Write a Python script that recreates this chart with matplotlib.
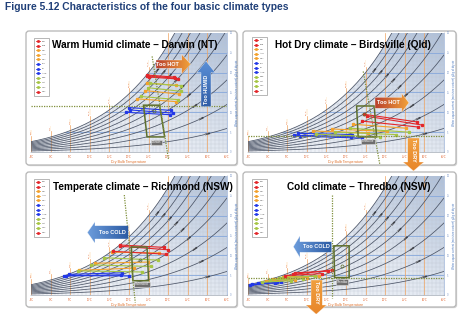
import numpy as np
import matplotlib
matplotlib.use('Agg')
import matplotlib.pyplot as plt
from matplotlib.patches import Polygon, FancyBboxPatch, Rectangle
from matplotlib.colors import LinearSegmentedColormap

plt.rcParams['font.family'] = ['Liberation Sans', 'DejaVu Sans']

W, H = 470, 332

# ---- data -------------------------------------------------------------
months = ['Jan', 'Feb', 'Mar', 'Apr', 'May', 'Jun',
          'Jul', 'Aug', 'Sep', 'Oct', 'Nov', 'Dec']
month_colors = ['#e3262a', '#e3262a', '#f3a12c', '#f3a12c', '#f3a12c', '#2238e8',
                '#2238e8', '#2238e8', '#a6c544', '#a6c544', '#a6c544', '#e3262a']

# Darwin (NT): min / max temperature (C), moisture at min / at max (g/kg)
darwin_tmin = [24.7, 24.6, 24.5, 24.0, 22.1, 20.0, 19.3, 20.3, 23.0, 24.9, 25.3, 25.0]
darwin_tmax = [31.8, 31.4, 31.9, 32.7, 32.0, 30.6, 30.5, 31.3, 32.5, 33.2, 33.2, 32.6]
darwin_w1 = [19.2, 19.4, 17.4, 15.5, 13.4, 11.2, 10.0, 10.6, 14.0, 16.2, 17.3, 18.9]
darwin_w2 = [18.6, 18.9, 16.8, 14.6, 12.7, 10.5, 9.4, 9.8, 13.2, 15.3, 16.7, 18.4]

# Birdsville (Qld)
birds_tmin = [25.4, 24.6, 21.7, 16.4, 11.5, 7.7, 6.7, 8.2, 12.4, 17.3, 21.0, 24.0]
birds_tmax = [39.4, 38.0, 35.3, 30.4, 25.6, 21.6, 21.3, 24.2, 28.7, 32.7, 36.0, 38.4]
birds_w1 = [9.0, 9.5, 7.0, 5.8, 5.3, 4.7, 4.2, 4.0, 4.5, 5.0, 6.0, 7.8]
birds_w2 = [6.8, 7.6, 6.0, 5.2, 4.8, 4.4, 3.9, 3.5, 3.8, 4.4, 5.0, 6.3]

# Richmond (NSW)
rich_tmin = [17.6, 17.8, 15.6, 11.3, 7.3, 4.7, 3.4, 4.0, 6.9, 10.3, 13.6, 15.9]
rich_tmax = [30.0, 29.0, 27.6, 24.8, 21.4, 18.3, 17.9, 20.0, 23.2, 25.6, 27.4, 29.4]
rich_w1 = [12.3, 12.6, 10.8, 8.0, 6.2, 5.2, 4.8, 4.9, 6.1, 7.6, 9.4, 11.0]
rich_w2 = [11.4, 12.0, 10.6, 8.3, 6.8, 5.6, 5.1, 4.8, 5.8, 7.2, 8.8, 10.3]

# Thredbo (NSW)
thred_tmin = [6.6, 7.0, 4.0, 1.5, -0.5, -2.5, -4.4, -4.0, -1.5, 0.5, 3.0, 4.5]
thred_tmax = [16.4, 15.5, 13.0, 10.0, 7.0, 3.5, 2.0, 2.5, 6.0, 9.0, 12.0, 14.0]
thred_w1 = [5.2, 5.6, 4.6, 4.1, 3.5, 3.0, 2.5, 2.7, 3.2, 3.8, 4.4, 4.9]
thred_w2 = [6.3, 6.0, 4.8, 4.4, 3.9, 3.3, 3.1, 3.2, 3.6, 4.1, 4.7, 5.4]

titles = ['Warm Humid climate \u2013 Darwin (NT)', 'Hot Dry climate \u2013 Birdsville (Qld)',
          'Temperate climate \u2013 Richmond (NSW)', 'Cold climate \u2013 Thredbo (NSW)']
places = ['Darwin', 'Birdsville', 'Richmond', 'Thredbo']

# comfort zones (T, w corners), neutral point, label spot
comfort_boxes = [
    [(23.7, 11.8), (27.8, 11.8), (29.1, 3.8), (24.6, 3.8)],
    [(22.7, 11.6), (27.2, 11.6), (27.8, 3.8), (23.1, 3.8)],
    [(20.6, 12.1), (24.6, 12.1), (25.0, 3.6), (21.0, 3.6)],
    [(16.9, 12.4), (20.8, 12.4), (20.8, 4.4), (17.1, 4.4)],
]
neutral_pts = [(26.3, 10.4), (24.7, 9.7), (22.9, 8.7), (18.9, 7.4)]
label_pts = [(27.1, 2.4), (25.7, 2.7), (23.3, 2.7), (19.0, 3.3)]
tilt_lines = [[(25.9, 24.1), (30.1, -2.0)], [(24.4, 20.3), (28.6, -3.0)],
              [(18.8, 25.2), (21.6, -1.9)], [(16.4, 25.1), (16.4, -0.8)]]
hdot_levels = [11.7, 4.0, None, 4.2]

# ---- layout (pixels) --------------------------------------------------
frames = [(26, 31, 237, 165), (243, 31, 456, 165), (26, 172, 237, 307), (243, 172, 456, 307)]
plots = [(31, 33, 227, 152), (248, 33, 444, 152), (31, 176, 227, 295), (248, 176, 444, 295)]


def px_axes(fig, x0, y0, x1, y1, **kw):
    return fig.add_axes([x0 / W, 1 - y1 / H, (x1 - x0) / W, (y1 - y0) / H], **kw)


def w_sat(T, rh=1.0):
    p = rh * 0.61094 * np.exp(17.625 * T / (T + 243.04))
    return 622 * p / (101.325 - p)


def draw_chart(ax, i, tmin, tmax, w1, w2):
    ax.set_xlim(-5, 45)
    ax.set_ylim(0, 30)
    ax.set_facecolor('white')
    T = np.linspace(-5, 45, 400)
    ws = w_sat(T)
    verts = [(-5, 0)] + list(zip(T, np.minimum(ws, 31))) + [(45, 0)]
    clip = Polygon(verts, closed=True, fc='none', ec='none')
    ax.add_patch(clip)
    xx, yy = np.meshgrid(np.linspace(0, 1, 200), np.linspace(0, 1, 200))
    cmap = LinearSegmentedColormap.from_list('bg', ['#f4f6fa', '#e2e8f1', '#aebfd8'])
    im = ax.imshow(0.5 * xx + 0.5 * yy, extent=[-5, 45, 0, 30], origin='lower',
                   cmap=cmap, aspect='auto', zorder=0)
    im.set_clip_path(clip)
    g1 = ax.vlines(np.arange(-5, 46, 1), 0, 30, color='#bfc6d2', lw=0.25, zorder=1)
    g2 = ax.hlines(np.arange(1, 30, 1), -5, 45, color='#bfc6d2', lw=0.25, zorder=1)
    g3 = ax.hlines([5, 10, 15, 20, 25], -5, 45, color='#86a8dc', lw=0.6, zorder=1.5)
    for g in (g1, g2, g3):
        g.set_clip_path(clip)
    for t in range(-5, 46, 5):
        top = w_sat(t) + 1.5
        if top < 28:
            ax.plot([t, t], [0, top], color='#f0a460', lw=0.5, zorder=1.6)
            ax.text(t, top + 0.2, f'{t}\u00b0C', rotation=90, fontsize=1.7, color='#e0602a',
                    ha='center', va='bottom', zorder=3,
                    bbox=dict(boxstyle='square,pad=0.1', fc='#fff3e4', ec='none'))
        else:
            ax.plot([t, t], [0, 30], color='#f0a460', lw=0.5, zorder=1.6)
    for rh in np.arange(0.1, 1.01, 0.1):
        ax.plot(T, w_sat(T, rh), color='#4b5466', lw=0.55, zorder=2)
    for rh in np.arange(0.1, 0.95, 0.1):
        tl = 40 - (rh - 0.1) * 16
        wl = w_sat(tl, rh)
        if wl > 28:
            continue
        p0 = ax.transData.transform((tl - 0.5, w_sat(tl - 0.5, rh)))
        p1 = ax.transData.transform((tl + 0.5, w_sat(tl + 0.5, rh)))
        ang = np.degrees(np.arctan2(p1[1] - p0[1], p1[0] - p0[0]))
        ax.text(tl, wl, f'{int(round(rh * 100))}%', rotation=ang, fontsize=1.6, color='white',
                ha='center', va='center', zorder=3, rotation_mode='anchor',
                bbox=dict(boxstyle='square,pad=0.15', fc='#3c3f46', ec='none'))

    # monthly swings
    for m in range(12):
        ax.plot([tmin[m], tmax[m]], [w1[m], w2[m]], color=month_colors[m], lw=0.8,
                marker='s', ms=1.4, zorder=5)

    # comfort zone
    ax.add_patch(Polygon(comfort_boxes[i], closed=True, fill=False, ec='#5e6f2c', lw=1.1, zorder=6))
    ax.plot(*neutral_pts[i], marker='o', ms=2.2, mfc='none', mec='#5e6f2c', mew=0.5, zorder=6)
    ax.text(*label_pts[i], places[i], fontsize=2.2, color='white', ha='center', va='center',
            zorder=7, bbox=dict(boxstyle='square,pad=0.25', fc='#6e6e6e', ec='#dddddd', lw=0.4))
    (xa, ya), (xb, yb) = tilt_lines[i]
    ax.plot([xa, xb], [ya, yb], color='#7f8f3a', lw=0.9, ls=(0, (1, 1)), zorder=6, clip_on=False)
    if hdot_levels[i] is not None:
        ax.axhline(hdot_levels[i], color='#7f8f3a', lw=0.9, ls=(0, (1, 1)), zorder=6)

    ax.set_xticks(range(-5, 46, 5))
    ax.set_xticklabels([f'{t}\u00b0C' for t in range(-5, 46, 5)], fontsize=1.8)
    ax.yaxis.tick_right()
    ax.set_yticks(range(0, 31, 5))
    ax.set_yticklabels([str(v) for v in range(0, 31, 5)], fontsize=1.8)
    ax.tick_params(length=1, width=0.3, pad=1, colors='#9aa7b8')
    for lab in ax.get_xticklabels():
        lab.set_color('#e0602a')
    for lab in ax.get_yticklabels():
        lab.set_color('#7b97c8')
    ax.spines['left'].set_visible(False)
    ax.spines['top'].set_visible(False)
    ax.spines['bottom'].set_color('#a0a8b4')
    ax.spines['right'].set_color('#9ab0d6')
    for s in ax.spines.values():
        s.set_linewidth(0.5)
    ax.set_xlabel('Dry Bulb Temperature', fontsize=2.6, color='#e0702a', labelpad=1)
    ax.yaxis.set_label_position('right')
    ax.set_ylabel('Water vapour content (moisture content) g/kg of dry air',
                  fontsize=2.0, color='#4a78c0', labelpad=2)


def grad_poly(ax, verts, c0, c1, vertical=False):
    poly = Polygon(verts, closed=True, fc='none', ec='none', zorder=8)
    ax.add_patch(poly)
    xs = [v[0] for v in verts]
    ys = [v[1] for v in verts]
    grad = np.linspace(0, 1, 100)
    img = grad[:, None] if vertical else grad[None, :]
    cmap = LinearSegmentedColormap.from_list('a', [c0, c1])
    im = ax.imshow(img, extent=[min(xs), max(xs), max(ys), min(ys)], cmap=cmap,
                   aspect='auto', zorder=8, interpolation='bilinear')
    im.set_clip_path(poly)
    ax.add_patch(Polygon(verts, closed=True, fc='none', ec='#ffffff', lw=0.4, zorder=9, alpha=0.6))


def arrow_h(x_tail, x_head, x_tip, b0, b1, h0, h1):
    ym = (h0 + h1) / 2
    return [(x_tail, b0), (x_head, b0), (x_head, h0), (x_tip, ym), (x_head, h1), (x_head, b1), (x_tail, b1)]


def arrow_v(y_tail, y_head, y_tip, b0, b1, h0, h1):
    xm = (h0 + h1) / 2
    return [(b0, y_tail), (b0, y_head), (h0, y_head), (xm, y_tip), (h1, y_head), (b1, y_head), (b1, y_tail)]


fig = plt.figure(figsize=(W / 100, H / 100), dpi=100)

bg = fig.add_axes([0, 0, 1, 1], zorder=0)
bg.set_xlim(0, W)
bg.set_ylim(H, 0)
bg.axis('off')
for (x0, y0, x1, y1) in frames:
    bg.add_patch(FancyBboxPatch((x0 + 1.2, y0 + 1.2), x1 - x0, y1 - y0,
                                boxstyle='round,pad=0,rounding_size=3', fc='#d9d9d9', ec='none'))
    bg.add_patch(FancyBboxPatch((x0, y0), x1 - x0, y1 - y0,
                                boxstyle='round,pad=0,rounding_size=3', fc='white', ec='#b5b5b5', lw=0.9))
bg.text(5, 7, 'Figure 5.12 Characteristics of the four basic climate types', fontsize=7.4,
        fontweight='bold', color='#1f3f78', ha='left', va='center')

datasets = [(darwin_tmin, darwin_tmax, darwin_w1, darwin_w2),
            (birds_tmin, birds_tmax, birds_w1, birds_w2),
            (rich_tmin, rich_tmax, rich_w1, rich_w2),
            (thred_tmin, thred_tmax, thred_w1, thred_w2)]

for i, rect in enumerate(plots):
    ax = px_axes(fig, *rect, zorder=1)
    draw_chart(ax, i, *datasets[i])

fg = fig.add_axes([0, 0, 1, 1], zorder=5)
fg.axis('off')

title_pos = [(135, 45), (353, 45), (142.5, 187), (359, 187)]
for i, (x, y) in enumerate(title_pos):
    fg.text(x, y, titles[i], fontsize=7.2, fontweight='bold', color='black', ha='center', va='center')

legend_pos = [(34, 38), (252, 37), (34, 179), (252, 179)]
for (lx, ly) in legend_pos:
    fg.add_patch(Rectangle((lx, ly), 15, 58, fc='white', ec='#9a9a9a', lw=0.5))
    for m in range(12):
        yy = ly + 3 + m * 4.6
        fg.plot([lx + 1.5, lx + 6], [yy, yy], color=month_colors[m], lw=0.6)
        fg.plot(lx + 3.75, yy, marker='s', ms=1.0, color=month_colors[m])
        fg.text(lx + 7.5, yy, months[m], fontsize=1.7, color='#555555', va='center', ha='left')

red_org = ('#b8402e', '#f2a23a')
org_down = ('#f0a040', '#e8862a')

# Darwin
grad_poly(fg, arrow_h(156, 181.7, 190.7, 60, 68.3, 54.3, 74), *red_org)
fg.text(167, 64.2, 'Too HOT', fontsize=4, color='white', fontweight='bold', ha='center', va='center', zorder=10)
grad_poly(fg, arrow_v(106.7, 72.7, 61, 201, 211, 196.7, 215.3), '#5b8fd6', '#2e5ca6', vertical=True)
fg.text(206, 89, 'Too HUMID', fontsize=4, color='white', fontweight='bold', ha='center', va='center',
        rotation=90, zorder=10)
# Birdsville
grad_poly(fg, arrow_h(375, 401.7, 409, 97.3, 108.3, 93.3, 112.3), *red_org)
fg.text(388, 102.8, 'Too HOT', fontsize=4, color='white', fontweight='bold', ha='center', va='center', zorder=10)
grad_poly(fg, arrow_v(138, 162, 171, 407.7, 419.3, 403, 424), *org_down, vertical=True)
fg.text(413.5, 150, 'Too DRY', fontsize=4, color='white', fontweight='bold', ha='center', va='center',
        rotation=-90, zorder=10)
# Richmond
grad_poly(fg, arrow_h(128.3, 95, 87.3, 225.7, 239, 221.7, 243.3), '#6d9ddc', '#2b5aa3')
fg.text(112, 232.4, 'Too COLD', fontsize=4, color='white', fontweight='bold', ha='center', va='center', zorder=10)
# Thredbo
grad_poly(fg, arrow_h(331.7, 300, 293.3, 241.7, 252.3, 235.7, 257.7), '#6d9ddc', '#2b5aa3')
fg.text(316.5, 247, 'Too COLD', fontsize=4, color='white', fontweight='bold', ha='center', va='center', zorder=10)
grad_poly(fg, arrow_v(280, 305, 314.3, 311, 322.3, 305.7, 326.7), *org_down, vertical=True)
fg.text(316.6, 292, 'Too DRY', fontsize=4, color='white', fontweight='bold', ha='center', va='center',
        rotation=-90, zorder=10)

fg.set_xlim(0, W)
fg.set_ylim(H, 0)

fig.savefig('out.png', dpi=100)
